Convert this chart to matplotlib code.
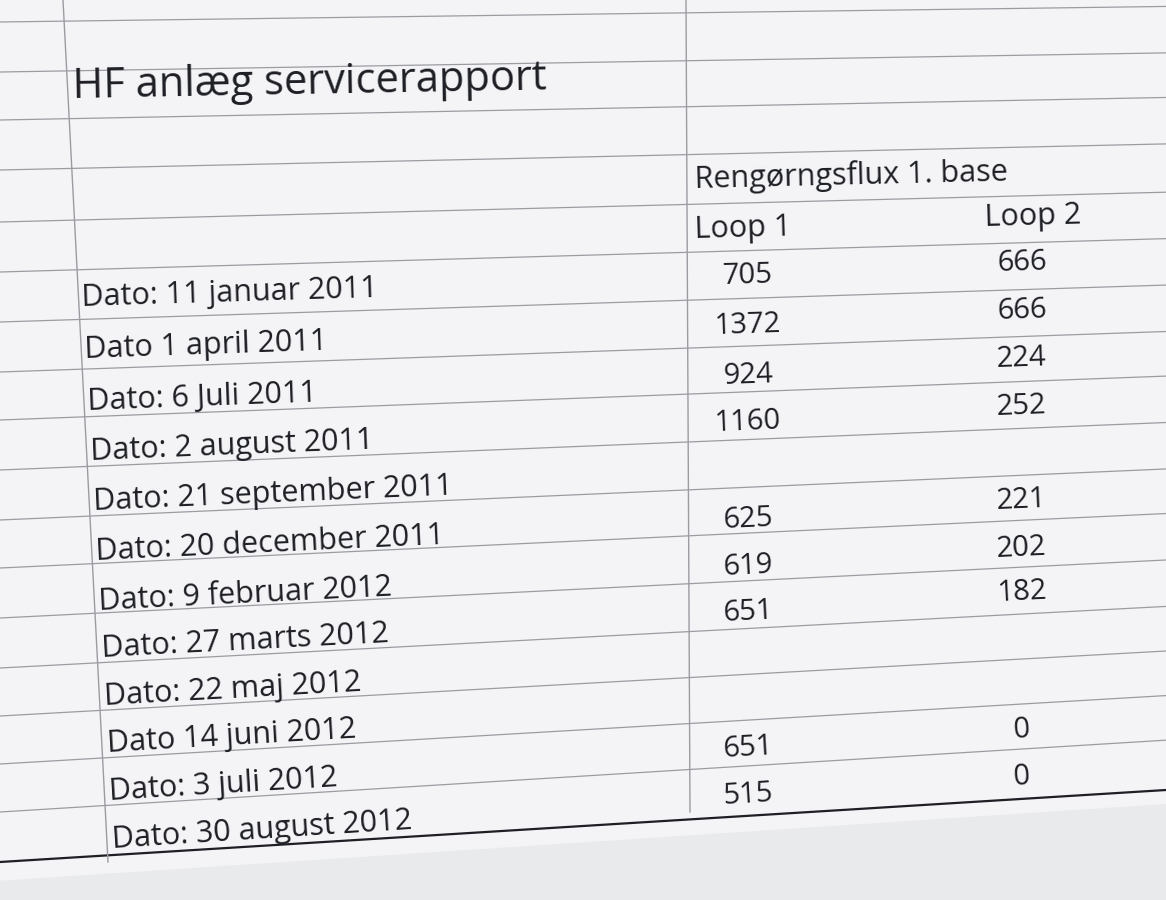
import numpy as np
import matplotlib.pyplot as plt

title = "HF anlæg servicerapport"
group_header = "Rengørngsflux 1. base"
col_headers = ["Loop 1", "Loop 2"]
dates = ["Dato: 11 januar 2011", "Dato 1 april 2011", "Dato: 6 Juli 2011",
         "Dato: 2 august 2011", "Dato: 21 september 2011", "Dato: 20 december 2011",
         "Dato: 9 februar 2012", "Dato: 27 marts 2012", "Dato: 22 maj 2012",
         "Dato 14 juni 2012", "Dato: 3 juli 2012", "Dato: 30 august 2012"]
loop1 = ["705", "1372", "924", "1160", "", "625", "619", "651", "", "", "651", "515"]
loop2 = ["666", "666", "224", "252", "", "221", "202", "182", "", "", "0", "0"]

W, H = 1166, 900
fig = plt.figure(figsize=(W / 100, H / 100), dpi=100)
fig.patch.set_facecolor('#e9eaec')
ax = fig.add_axes([0, 0, 1, 1])
ax.set_xlim(0, W)
ax.set_ylim(H, 0)
ax.axis('off')

def slope(y0):
    # lines tilt more toward the bottom of the photo
    return 0.012 + 0.055 * (y0 / H)

def yat(x, y0):
    return y0 - x * slope(y0)

ink = '#1d1f24'
grid = '#9a9ca2'

# paper
ax.fill([0, W, W, 0], [0, 0, yat(W, 880), 880], color='#f4f4f6', zorder=0)

line_rows = [22, 72, 120, 170, 222, 272, 322, 372, 420, 470, 520, 568, 618, 668, 716, 764, 812]
for y0 in line_rows:
    ax.plot([0, W], [y0, yat(W, y0)], color=grid, lw=0.9, zorder=1)
ax.plot([0, W], [862, 790], color=ink, lw=1.6, zorder=2)

# vertical rules
ax.plot([63, 108], [0, 862], color=grid, lw=1.0)
ax.plot([686, 690], [0, 812], color=grid, lw=1.0)

def txt(x, y, s, size=21, ha='left'):
    ang = np.degrees(np.arctan(slope(y)))
    ax.text(x, y, s, fontsize=size, color=ink, ha=ha, va='baseline',
            rotation=ang, rotation_mode='anchor', family='Open Sans')

txt(73, 98, title, size=30)
txt(695, 188, group_header, size=22)
txt(695, 238, col_headers[0], size=22)
txt(985, 226, col_headers[1], size=22)

label_y = [306, 358, 410, 460, 510, 560, 610, 657, 705, 752, 800, 848]
for i, d in enumerate(dates):
    x = 82 + i * 2.8
    txt(x, label_y[i], d, size=22)

v1_y = [283, 333, 383, 430, None, 527, 574, 620, None, None, 756, 802]
v2_y = [270, 318, 366, 414, None, 508, 556, 600, None, None, 738, 784]
for i in range(len(dates)):
    if loop1[i]:
        txt(748, v1_y[i], loop1[i], size=21, ha='center')
    if loop2[i]:
        txt(1022, v2_y[i], loop2[i], size=21, ha='center')

fig.savefig('out.png', dpi=100, facecolor=fig.get_facecolor())
